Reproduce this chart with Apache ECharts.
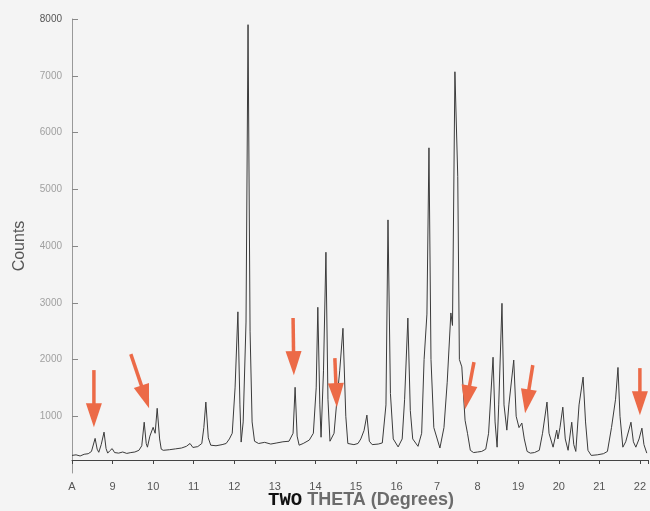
<!DOCTYPE html>
<html>
<head>
<meta charset="utf-8">
<script src="https://cdn.jsdelivr.net/npm/echarts@6/dist/echarts.min.js"></script>
<style>html,body{margin:0;padding:0;background:#f4f4f4;}#c{width:650px;height:511px;}</style>
</head>
<body>
<div id="c"></div>
<script>
const theta = [8.00,8.10,8.20,8.30,8.40,8.48,8.57,8.62,8.66,8.72,8.79,8.84,8.88,8.93,8.99,9.05,9.15,9.25,9.35,9.45,9.55,9.65,9.72,9.78,9.83,9.86,9.92,10.00,10.05,10.10,10.16,10.20,10.25,10.40,10.55,10.70,10.82,10.91,10.98,11.10,11.20,11.25,11.30,11.36,11.42,11.55,11.70,11.80,11.88,11.95,12.02,12.09,12.14,12.17,12.22,12.29,12.34,12.39,12.44,12.50,12.60,12.75,12.90,13.05,13.20,13.35,13.45,13.50,13.55,13.60,13.70,13.85,13.95,14.02,14.06,14.11,14.14,14.20,14.26,14.31,14.36,14.46,14.53,14.60,14.68,14.75,14.80,14.95,15.05,15.12,15.20,15.27,15.33,15.40,15.55,15.65,15.74,15.79,15.85,15.92,16.04,16.14,16.20,16.28,16.34,16.40,16.53,16.62,16.68,16.75,16.80,16.85,16.92,17.07,17.17,17.25,17.34,17.38,17.44,17.51,17.55,17.61,17.69,17.75,17.82,17.90,18.00,18.10,18.20,18.27,18.38,18.43,18.48,18.52,18.60,18.65,18.72,18.77,18.89,18.95,19.02,19.09,19.15,19.22,19.30,19.40,19.52,19.60,19.71,19.76,19.86,19.95,19.98,20.03,20.10,20.16,20.23,20.32,20.37,20.42,20.50,20.60,20.66,20.72,20.80,20.95,21.10,21.20,21.30,21.40,21.46,21.51,21.58,21.65,21.78,21.84,21.90,21.98,22.05,22.10,22.17];
// Counts at each position
const counts = [310,320,300,330,340,380,610,420,365,500,720,430,350,390,430,360,350,370,345,360,370,400,480,895,520,455,650,805,700,1140,600,420,400,410,425,440,470,520,450,465,520,800,1250,620,490,480,500,520,600,700,1500,2840,1200,545,900,2660,7900,2500,900,560,520,540,510,530,550,560,700,1510,650,490,520,580,700,1500,2920,1200,630,1800,3890,1300,560,700,1280,1800,2550,1000,520,500,520,600,750,1020,560,500,510,530,1200,4460,1400,600,460,600,1300,2730,1100,600,470,700,2000,2800,5730,2000,800,440,800,1600,2820,2600,7070,5220,2000,1870,930,700,400,360,370,380,420,700,2040,900,455,1200,2990,1200,755,1200,1990,1000,800,880,600,380,350,360,400,700,1250,700,455,755,600,800,1160,600,400,895,500,380,1200,1690,900,400,310,320,340,380,800,1300,1860,1000,455,550,895,550,455,600,790,500,350];
// X tick labels as printed (8..22)
const xTickLabels = ['A','9','10','11','12','13','14','15','16','7','8','19','20','21','22'];
// Annotation arrows (tail -> tip) in data units
const arrowFromTheta = [8.54, 9.45, 13.45, 14.48, 17.91, 19.36, 22.00];
const arrowFromCounts = [1813, 2095, 2730, 2024, 1954, 1901, 1848];
const arrowToTheta = [8.54, 9.90, 13.47, 14.53, 17.69, 19.17, 22.00];
const arrowToCounts = [807, 1142, 1724, 1160, 1124, 1054, 1018];

const chart = echarts.init(document.getElementById('c'), null, {renderer: 'canvas'});
const lineData = theta.map((t, i) => [t, counts[i]]);
const arrowData = arrowFromTheta.map((t, i) => [t, arrowFromCounts[i], arrowToTheta[i], arrowToCounts[i]]);
const ARROW = '#ec6a47';

chart.setOption({
  animation: false,
  backgroundColor: '#f4f4f4',
  title: {
    text: '{a|TWO} {b|THETA (Degrees)}',
    left: 268, top: 491, padding: 0,
    textStyle: {
      rich: {
        a: {fontFamily: 'Liberation Mono', fontWeight: 'bold', fontSize: 19, color: '#111'},
        b: {fontFamily: 'Liberation Sans', fontWeight: 'bold', fontSize: 18, color: '#6b6b6b'}
      }
    }
  },
  grid: {left: 72, right: 2, top: 19, bottom: 38, containLabel: false, outerBoundsMode: 'none'},
  xAxis: {
    type: 'value', min: 8, max: 22.2, interval: 1,
    offset: -13,
    axisLine: {lineStyle: {color: '#444', width: 1}},
    axisTick: {show: true, length: 4, lineStyle: {color: '#444'}},
    splitLine: {show: false},
    axisLabel: {
      margin: 21, color: '#555', fontSize: 11, fontFamily: 'Liberation Sans',
      formatter: function (v) {
        const k = Math.round(v - 8);
        return (Math.abs(v - 8 - k) < 1e-6 && k >= 0 && k < xTickLabels.length) ? xTickLabels[k] : '';
      }
    }
  },
  yAxis: {
    type: 'value', min: 0, max: 8000, interval: 1000,
    axisLine: {show: true, lineStyle: {color: '#999', width: 1}},
    axisTick: {show: true, inside: true, length: 6, lineStyle: {color: '#888'}},
    splitLine: {show: false},
    axisLabel: {
      showMinLabel: false, margin: 10, fontSize: 10, fontFamily: 'Liberation Sans',
      color: '#a0a0a0',
      formatter: function (v) { return v === 8000 ? '{d|' + v + '}' : String(v); },
      rich: {d: {color: '#555', fontSize: 10, fontFamily: 'Liberation Sans'}}
    },
    name: 'Counts', nameLocation: 'middle', nameGap: 44,
    nameTextStyle: {fontFamily: 'Liberation Sans', fontSize: 16, color: '#555'}
  },
  series: [
    {
      type: 'line', data: lineData, showSymbol: false, symbol: 'none',
      lineStyle: {color: '#3b3b3b', width: 1}, z: 2
    },
    {
      type: 'custom', data: arrowData, z: 5, clip: false,
      encode: {x: [0, 2], y: [1, 3]},
      renderItem: function (params, api) {
        const p1 = api.coord([api.value(0), api.value(1)]);
        const p2 = api.coord([api.value(2), api.value(3)]);
        const dx = p2[0] - p1[0], dy = p2[1] - p1[1];
        const len = Math.sqrt(dx * dx + dy * dy) || 1;
        const ux = dx / len, uy = dy / len;
        const hl = 24, hw = 8;
        const bx = p2[0] - ux * hl, by = p2[1] - uy * hl;
        const nx = -uy, ny = ux;
        return {
          type: 'group',
          children: [
            {type: 'line', shape: {x1: p1[0], y1: p1[1], x2: bx + ux * 2, y2: by + uy * 2},
             style: {stroke: ARROW, lineWidth: 3.5}},
            {type: 'polygon', shape: {points: [[p2[0], p2[1]], [bx + nx * hw, by + ny * hw], [bx - nx * hw, by - ny * hw]]},
             style: {fill: ARROW}}
          ]
        };
      }
    }
  ]
});
</script>
</body>
</html>
